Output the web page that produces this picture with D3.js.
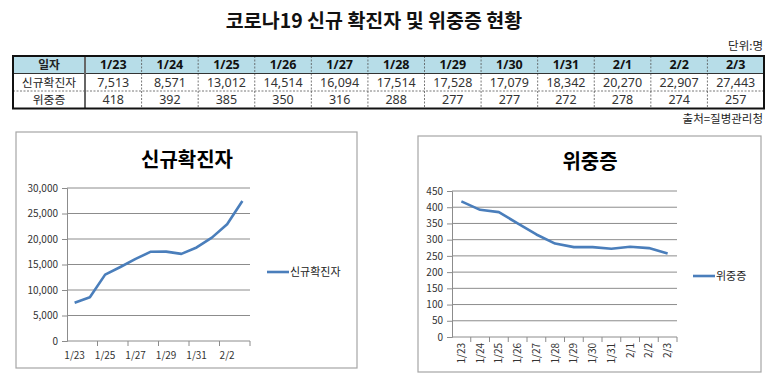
<!DOCTYPE html>
<html><head><meta charset="utf-8">
<script src="https://cdn.jsdelivr.net/npm/d3@7"></script>
<style>
html,body{margin:0;padding:0;background:#fff;}
svg{display:block;font-family:"Noto Sans CJK KR","Noto Sans",sans-serif;}
</style></head>
<body>
<svg id="chart" width="780" height="392"></svg>
<script>
const dates = ["1/23","1/24","1/25","1/26","1/27","1/28","1/29","1/30","1/31","2/1","2/2","2/3"];
const confirmed = [7513, 8571, 13012, 14514, 16094, 17514, 17528, 17079, 18342, 20270, 22907, 27443];
const severe = [418, 392, 385, 350, 316, 288, 277, 277, 272, 278, 274, 257];
const confirmedTicks = [0, 5000, 10000, 15000, 20000, 25000, 30000];
const severeTicks = [0, 50, 100, 150, 200, 250, 300, 350, 400, 450];
const rowLabels = ["일자", "신규확진자", "위중증"];
const titleText = "코로나19 신규 확진자 및 위중증 현황";
const unitText = "단위:명";
const sourceText = "출처=질병관리청";
const seriesNames = ["신규확진자", "위중증"];

const svg = d3.select("#chart");
const fmt = d3.format(",");
const lineColor = "#4A7EBB";
const numFont = "'Noto Sans','Noto Sans CJK KR',sans-serif";

// Title
svg.append("text").attr("x", 374).attr("y", 28).attr("text-anchor", "middle")
  .attr("font-size", 19.5).attr("font-weight", "bold").attr("fill", "#111").text(titleText);
svg.append("text").attr("x", 763).attr("y", 50).attr("text-anchor", "end")
  .attr("font-size", 11.5).attr("fill", "#222").text(unitText);

// Table
const tLeft = 13, tRight = 764, tTop = 56, firstW = 72;
const rowH = [17.5, 17.5, 17.5];
const colX = d3.scaleBand().domain(dates).range([tLeft + firstW, tRight]);
const rowY = [tTop, tTop + rowH[0], tTop + rowH[0] + rowH[1]];
const tBottom = rowY[2] + rowH[2];
const tg = svg.append("g");
tg.append("rect").attr("x", tLeft).attr("y", tTop).attr("width", tRight - tLeft).attr("height", rowH[0])
  .attr("fill", "#B7DDE8");
dates.slice(1).forEach(d => {
  tg.append("line").attr("x1", colX(d)).attr("x2", colX(d)).attr("y1", tTop).attr("y2", tBottom)
    .attr("stroke", "#555").attr("stroke-width", 0.8).attr("stroke-dasharray", "2,1.5");
});
tg.append("line").attr("x1", tLeft).attr("x2", tRight).attr("y1", rowY[2]).attr("y2", rowY[2])
  .attr("stroke", "#555").attr("stroke-width", 0.8).attr("stroke-dasharray", "2,1.5");
tg.append("line").attr("x1", tLeft).attr("x2", tRight).attr("y1", rowY[1]).attr("y2", rowY[1])
  .attr("stroke", "#333").attr("stroke-width", 1);
tg.append("line").attr("x1", tLeft + firstW).attr("x2", tLeft + firstW).attr("y1", tTop).attr("y2", tBottom)
  .attr("stroke", "#666").attr("stroke-width", 2);
tg.append("rect").attr("x", tLeft).attr("y", tTop).attr("width", tRight - tLeft).attr("height", tBottom - tTop)
  .attr("fill", "none").attr("stroke", "#111").attr("stroke-width", 2);
const firstCx = tLeft + firstW / 2;
rowLabels.forEach((lab, i) => {
  tg.append("text").attr("x", firstCx).attr("y", rowY[i] + rowH[i] / 2 + 4.3).attr("text-anchor", "middle")
    .attr("font-size", 11.8).attr("font-weight", i === 0 ? "bold" : "normal").attr("fill", "#222").text(lab);
});
dates.forEach((d, j) => {
  const cx = colX(d) + colX.bandwidth() / 2;
  tg.append("text").attr("x", cx).attr("y", rowY[0] + rowH[0] / 2 + 4.5).attr("text-anchor", "middle")
    .attr("font-family", numFont).attr("font-size", 12.5).attr("font-weight", "bold").attr("fill", "#111").text(d);
  tg.append("text").attr("x", cx).attr("y", rowY[1] + rowH[1] / 2 + 4.5).attr("text-anchor", "middle")
    .attr("font-family", numFont).attr("font-size", 12.5).attr("fill", "#333").text(fmt(confirmed[j]));
  tg.append("text").attr("x", cx).attr("y", rowY[2] + rowH[2] / 2 + 4.5).attr("text-anchor", "middle")
    .attr("font-family", numFont).attr("font-size", 12.5).attr("fill", "#333").text(fmt(severe[j]));
});
svg.append("text").attr("x", 763).attr("y", 123).attr("text-anchor", "end")
  .attr("font-size", 11.5).attr("fill", "#222").text(sourceText);

function drawChart(opt) {
  const g = svg.append("g");
  g.append("rect").attr("x", opt.box[0]).attr("y", opt.box[1]).attr("width", opt.box[2] - opt.box[0])
    .attr("height", opt.box[3] - opt.box[1]).attr("fill", "#fff").attr("stroke", "#A6A6A6").attr("stroke-width", 1.2);
  g.append("text").attr("x", opt.titleX).attr("y", opt.titleY).attr("text-anchor", "middle")
    .attr("font-size", 20).attr("font-weight", "bold").attr("fill", "#000").text(opt.name);

  const x = d3.scaleBand().domain(dates).range([opt.plot[0], opt.plot[1]]);
  const y = d3.scaleLinear().domain([0, d3.max(opt.ticks)]).range([opt.plot[3], opt.plot[2]]);

  g.append("g").selectAll("line").data(opt.ticks.filter(t => t > 0)).join("line")
    .attr("x1", opt.plot[0]).attr("x2", opt.plot[1]).attr("y1", d => y(d)).attr("y2", d => y(d))
    .attr("stroke", "#8C8C8C").attr("stroke-width", 1);

  const ya = g.append("g").attr("transform", `translate(${opt.plot[0]},0)`)
    .call(d3.axisLeft(y).tickValues(opt.ticks).tickFormat(fmt).tickSize(5).tickPadding(4));
  ya.select(".domain").attr("stroke", "#8C8C8C");
  ya.selectAll(".tick line").attr("stroke", "#8C8C8C");
  ya.selectAll("text").attr("font-size", 10).attr("fill", "#333")
    .attr("font-family", "'Noto Sans CJK KR','Noto Sans',sans-serif");

  g.append("line").attr("x1", opt.plot[0]).attr("x2", opt.plot[1]).attr("y1", y(0)).attr("y2", y(0))
    .attr("stroke", "#8C8C8C");
  const tickPos = dates.filter((d, i) => i % opt.every === 0 && i > 0).map(d => x(d)).concat([x.range()[1]]);
  g.append("g").selectAll("line").data(tickPos).join("line")
    .attr("x1", d => d).attr("x2", d => d).attr("y1", y(0)).attr("y2", y(0) + 5)
    .attr("stroke", "#8C8C8C");

  const labels = dates.filter((d, i) => i % opt.every === 0);
  const lx = g.append("g").selectAll("text").data(labels).join("text")
    .attr("font-size", 10).attr("fill", "#333").text(d => d);
  if (opt.rotate) {
    lx.attr("text-anchor", "end")
      .attr("transform", d => `translate(${x(d) + x.bandwidth() / 2 + 3.5},${y(0) + 6}) rotate(-90)`);
  } else {
    lx.attr("text-anchor", "middle").attr("x", d => x(d) + x.bandwidth() / 2).attr("y", y(0) + 18);
  }

  const line = d3.line().x((d, i) => x(dates[i]) + x.bandwidth() / 2).y(d => y(d));
  g.append("path").datum(opt.values).attr("d", line).attr("fill", "none")
    .attr("stroke", lineColor).attr("stroke-width", 2.6).attr("stroke-linejoin", "round");

  g.append("line").attr("x1", opt.legend[0]).attr("x2", opt.legend[0] + 22)
    .attr("y1", opt.legend[1]).attr("y2", opt.legend[1]).attr("stroke", lineColor).attr("stroke-width", 2.6);
  g.append("text").attr("x", opt.legend[0] + 23).attr("y", opt.legend[1] + 4)
    .attr("font-size", 11).attr("fill", "#222").text(opt.name);
}

drawChart({
  name: seriesNames[0], values: confirmed, ticks: confirmedTicks,
  box: [16, 132, 357, 368], titleX: 187, titleY: 167,
  plot: [67, 250, 188, 341], every: 2, rotate: false, legend: [267, 272]
});
drawChart({
  name: seriesNames[1], values: severe, ticks: severeTicks,
  box: [418, 136, 761, 372], titleX: 590, titleY: 169,
  plot: [452, 677, 191, 337], every: 1, rotate: true, legend: [693, 276]
});
</script>
</body></html>
